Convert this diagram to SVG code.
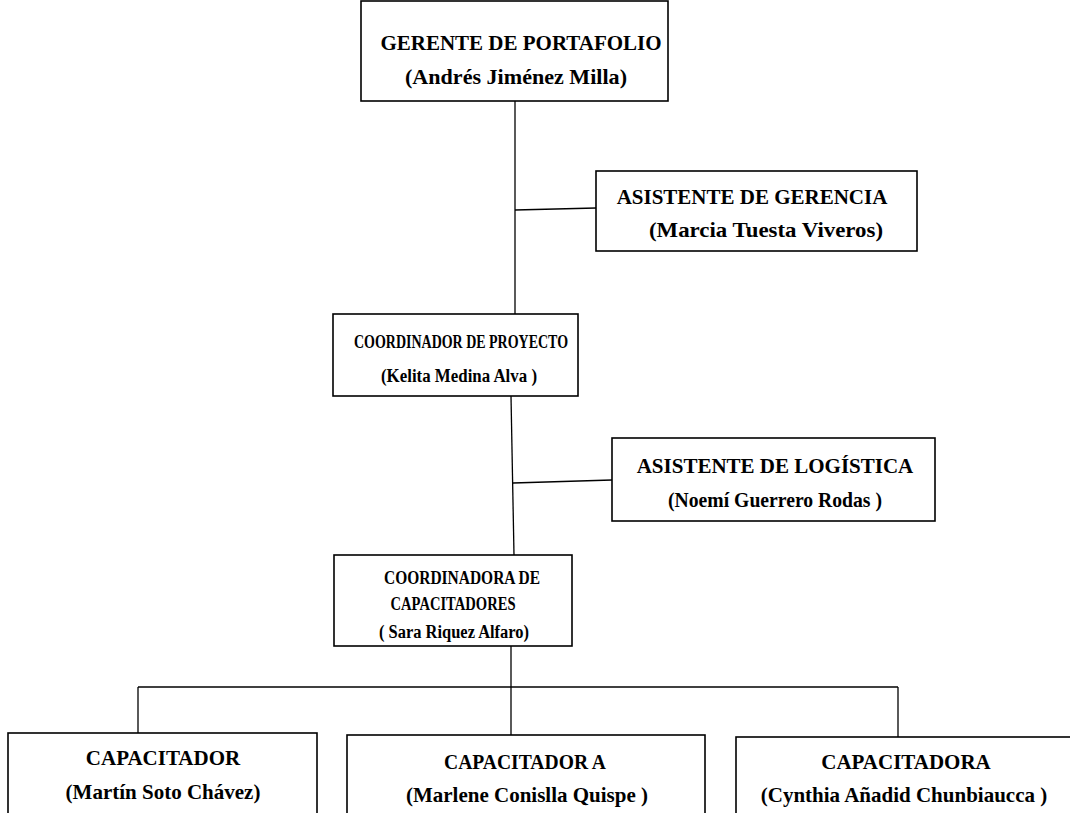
<svg xmlns="http://www.w3.org/2000/svg" width="1070" height="813" viewBox="0 0 1070 813">
  <style>
    .box { fill: #ffffff; stroke: #000000; stroke-width: 1.6; }
    .lbl { font-family: "Liberation Serif", "Times New Roman", serif; font-weight: bold; font-size: 21px; fill: #000000; text-anchor: middle; }
    .cond { font-size: 18px; }
    .link { fill: none; stroke: #000000; stroke-width: 1.3; }
  </style>
  <rect width="1070" height="813" fill="#ffffff"/>

  <!-- reporting lines -->
  <g id="connectors">
    <line class="link" x1="515" y1="101" x2="515" y2="314"/>
    <line class="link" x1="515" y1="210" x2="596" y2="208"/>
    <line class="link" x1="511" y1="396" x2="514" y2="555"/>
    <line class="link" x1="513" y1="483" x2="612" y2="480"/>
    <line class="link" x1="511" y1="646" x2="511" y2="687"/>
    <line class="link" x1="138" y1="687" x2="898" y2="687"/>
    <line class="link" x1="138" y1="687" x2="138" y2="733"/>
    <line class="link" x1="511" y1="687" x2="511" y2="735"/>
    <line class="link" x1="898" y1="687" x2="898" y2="737"/>
  </g>

  <g id="gerente">
    <rect class="box" x="361" y="1" width="307" height="100"/>
    <text class="lbl" x="521" y="50">GERENTE DE PORTAFOLIO</text>
    <text class="lbl" x="516" y="84" textLength="222" lengthAdjust="spacingAndGlyphs">(Andrés Jiménez Milla)</text>
  </g>

  <g id="asistente-gerencia">
    <rect class="box" x="596" y="171" width="321" height="80"/>
    <text class="lbl" x="752" y="204">ASISTENTE DE GERENCIA</text>
    <text class="lbl" x="766" y="237" textLength="234" lengthAdjust="spacingAndGlyphs">(Marcia Tuesta Viveros)</text>
  </g>

  <g id="coordinador-proyecto">
    <rect class="box" x="333" y="314" width="245" height="82"/>
    <text class="lbl cond" x="461" y="348" textLength="214" lengthAdjust="spacingAndGlyphs">COORDINADOR DE PROYECTO</text>
    <text class="lbl cond" x="459" y="382" textLength="156" lengthAdjust="spacingAndGlyphs">(Kelita Medina Alva )</text>
  </g>

  <g id="asistente-logistica">
    <rect class="box" x="612" y="438" width="323" height="83"/>
    <text class="lbl" x="775" y="473">ASISTENTE DE LOGÍSTICA</text>
    <text class="lbl" x="775" y="507" textLength="214" lengthAdjust="spacingAndGlyphs">(Noemí Guerrero Rodas )</text>
  </g>

  <g id="coordinadora-capacitadores">
    <rect class="box" x="334" y="555" width="238" height="91"/>
    <text class="lbl cond" x="462" y="584" textLength="156" lengthAdjust="spacingAndGlyphs">COORDINADORA DE</text>
    <text class="lbl cond" x="453" y="610" textLength="125" lengthAdjust="spacingAndGlyphs">CAPACITADORES</text>
    <text class="lbl cond" x="454" y="638" textLength="150" lengthAdjust="spacingAndGlyphs">( Sara Riquez Alfaro)</text>
  </g>

  <g id="capacitador-martin">
    <rect class="box" x="8" y="733" width="309" height="90"/>
    <text class="lbl" x="163" y="765">CAPACITADOR</text>
    <text class="lbl" x="163" y="799">(Martín Soto Chávez)</text>
  </g>

  <g id="capacitadora-marlene">
    <rect class="box" x="347" y="735" width="358" height="90"/>
    <text class="lbl" x="525" y="769" textLength="162" lengthAdjust="spacingAndGlyphs">CAPACITADOR A</text>
    <text class="lbl" x="527" y="802">(Marlene Conislla Quispe )</text>
  </g>

  <g id="capacitadora-cynthia">
    <rect class="box" x="736" y="737" width="340" height="90"/>
    <text class="lbl" x="906" y="769">CAPACITADORA</text>
    <text class="lbl" x="904" y="802">(Cynthia Añadid Chunbiaucca )</text>
  </g>
</svg>
